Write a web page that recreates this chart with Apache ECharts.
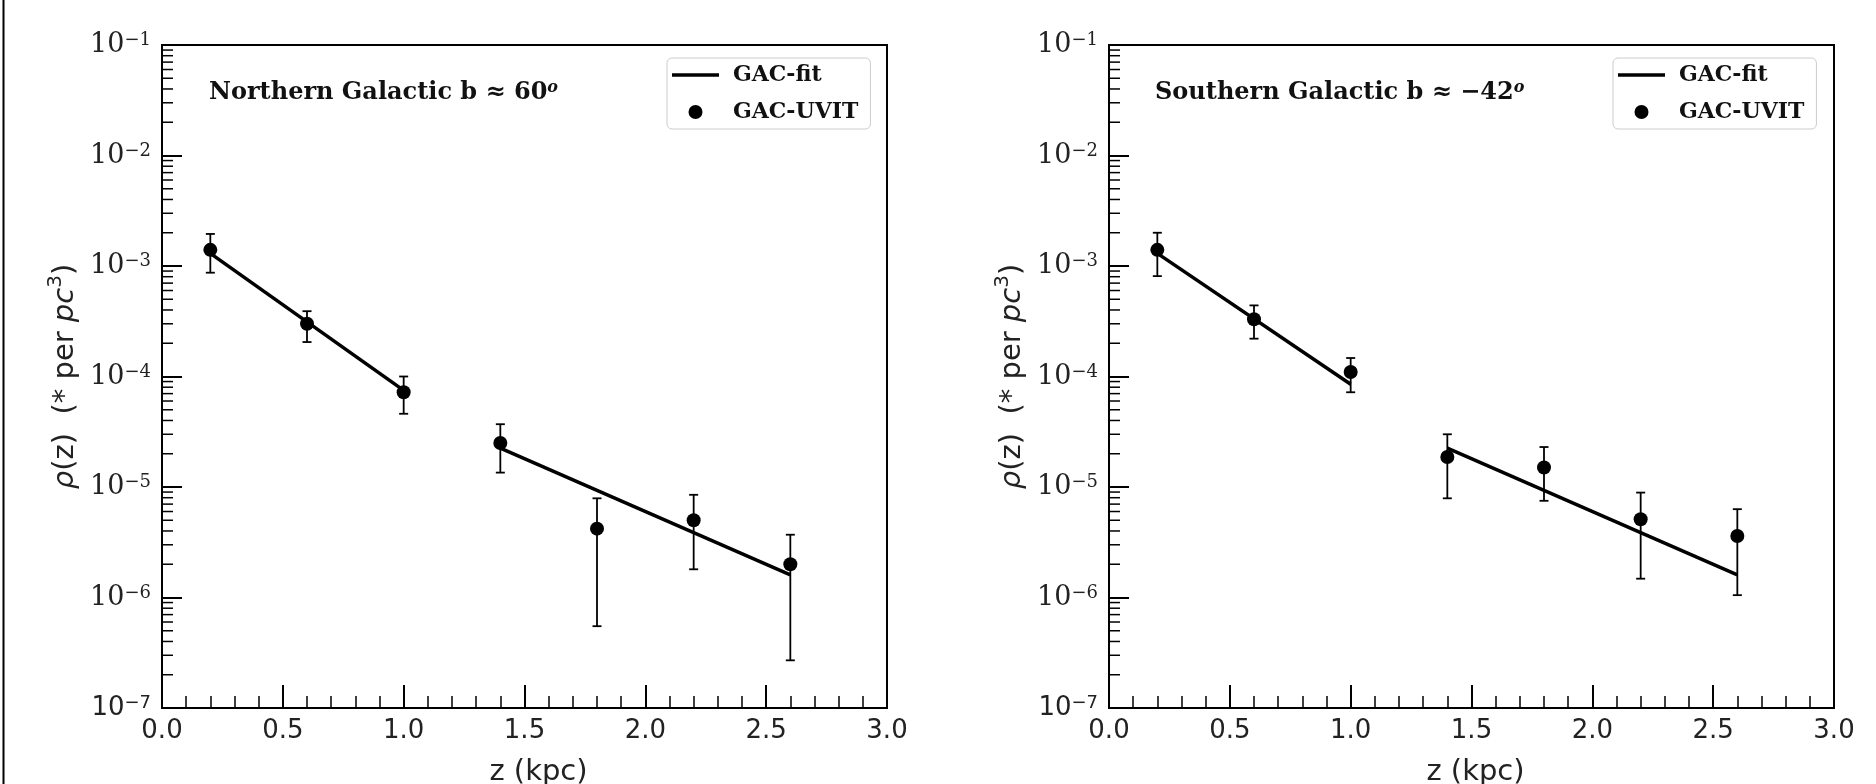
<!DOCTYPE html>
<html>
<head>
<meta charset="utf-8">
<script src="https://cdn.jsdelivr.net/npm/echarts@6/dist/echarts.min.js"></script>
<style>
html, body { margin: 0; padding: 0; background: #fff; }
#chart { width: 1876px; height: 784px; }
</style>
</head>
<body>
<div id="chart"></div>
<script>
// heights above the plane (kpc)
var zKpc = [0.2, 0.6, 1.0, 1.4, 1.8, 2.2, 2.6];

// Northern Galactic, b ~ 60
var northRho = [1.40e-3, 3.0e-4, 7.2e-5, 2.5e-5, 4.2e-6, 5.0e-6, 2.0e-6];
var northHi  = [1.95e-3, 3.9e-4, 1.0e-4, 3.7e-5, 7.9e-6, 8.5e-6, 3.7e-6];
var northLo  = [8.7e-4, 2.05e-4, 4.6e-5, 1.35e-5, 5.5e-7, 1.8e-6, 2.7e-7];

// Southern Galactic, b ~ -42
var southRho = [1.40e-3, 3.3e-4, 1.1e-4, 1.87e-5, 1.5e-5, 5.1e-6, 3.6e-6];
var southHi  = [2.0e-3, 4.4e-4, 1.47e-4, 3.0e-5, 2.3e-5, 8.9e-6, 6.3e-6];
var southLo  = [8.1e-4, 2.2e-4, 7.2e-5, 7.9e-6, 7.5e-6, 1.48e-6, 1.05e-6];

// fitted exponential segments (end points)
var fitZInner = [0.2, 1.0];
var fitZOuter = [1.4, 2.6];
var northFitInner = [1.3e-3, 7.5e-5];
var northFitOuter = [2.25e-5, 1.6e-6];
var southFitInner = [1.3e-3, 8.5e-5];
var southFitOuter = [2.25e-5, 1.6e-6];

var decades = [-7, -6, -5, -4, -3, -2, -1];
var minorMults = [2, 3, 4, 5, 6, 7, 8, 9];

var serif = 'DejaVu Serif';
var sans = 'DejaVu Sans';

function pairs(xs, ys) {
    return xs.map(function (x, i) { return [x, ys[i]]; });
}
function errRows(xs, lo, hi) {
    return xs.map(function (x, i) { return [x, lo[i], hi[i]]; });
}

var minorVals = [];
decades.slice(0, -1).forEach(function (e) {
    minorMults.forEach(function (m) { minorVals.push([0, m * Math.pow(10, e)]); });
});

function renderErr(params, api) {
    var top = api.coord([api.value(0), api.value(2)]);
    var bot = api.coord([api.value(0), api.value(1)]);
    var st = { stroke: '#000', lineWidth: 1.8 };
    return {
        type: 'group',
        children: [
            { type: 'line', shape: { x1: top[0], y1: top[1], x2: bot[0], y2: bot[1] }, style: st },
            { type: 'line', shape: { x1: top[0] - 4.5, y1: top[1], x2: top[0] + 4.5, y2: top[1] }, style: st },
            { type: 'line', shape: { x1: bot[0] - 4.5, y1: bot[1], x2: bot[0] + 4.5, y2: bot[1] }, style: st }
        ]
    };
}

function renderMinor(params, api) {
    var p = api.coord([0, api.value(1)]);
    return {
        type: 'line',
        shape: { x1: p[0], y1: p[1], x2: p[0] + 11, y2: p[1] },
        style: { stroke: '#000', lineWidth: 1.5 }
    };
}

function yLabel(v) {
    var e = Math.round(Math.log10(v));
    var exp = '\u2212' + Math.abs(e);
    if (e === -7) return '{bs|10}{ss|' + exp + '}';
    return '{b|10}{s|' + exp + '}';
}

function makeX(gi, shift) {
    return {
        type: 'value', gridIndex: gi, min: 0, max: 3, interval: 0.5,
        name: 'z (kpc)', nameLocation: 'middle', nameGap: 50,
        nameTextStyle: { fontFamily: sans, fontSize: 29, color: '#222', padding: [0, 0, 0, shift] },
        axisLine: { show: true, lineStyle: { color: '#000', width: 2 } },
        axisTick: { show: true, inside: true, length: 23, lineStyle: { color: '#000', width: 2 } },
        minorTick: { show: true, splitNumber: 5, length: 12, lineStyle: { color: '#000', width: 1.5 } },
        splitLine: { show: false },
        axisLabel: {
            margin: 10, fontFamily: sans, fontSize: 26, color: '#222',
            formatter: function (v) { return v.toFixed(1); }
        }
    };
}

function makeY(gi) {
    return {
        type: 'log', logBase: 10, gridIndex: gi, min: 1e-7, max: 1e-1,
        name: '{i|\u03c1}{n|(z)  (* per }{i|pc}{s|3}{n|)}', nameLocation: 'middle', nameGap: 82, nameRotate: 90,
        nameTextStyle: {
            fontFamily: sans, fontSize: 29, color: '#222',
            rich: {
                n: { fontFamily: sans, fontSize: 29, lineHeight: 34, verticalAlign: 'bottom', color: '#222' },
                i: { fontFamily: sans, fontStyle: 'italic', fontSize: 29, lineHeight: 34, verticalAlign: 'bottom', color: '#222' },
                s: { fontFamily: sans, fontSize: 20, lineHeight: 20, verticalAlign: 'top', color: '#222' }
            }
        },
        axisLine: { show: true, lineStyle: { color: '#000', width: 2 } },
        axisTick: { show: true, inside: true, length: 20, lineStyle: { color: '#000', width: 2 } },
        splitLine: { show: false },
        axisLabel: {
            margin: 11, color: '#222', formatter: yLabel,
            rich: {
                b: { fontFamily: serif, fontSize: 27, lineHeight: 27, color: '#222' },
                s: { fontFamily: serif, fontSize: 18, lineHeight: 18, verticalAlign: 'top', color: '#222' },
                bs: { fontFamily: sans, fontSize: 26, lineHeight: 27, color: '#222' },
                ss: { fontFamily: sans, fontSize: 18, lineHeight: 18, verticalAlign: 'top', color: '#222' }
            }
        }
    };
}

function makeLegend(left) {
    var lineIcon = 'path://M0,0 L47,0 L47,3.5 L0,3.5 Z';
    return {
        data: [{ name: 'GAC-fit', icon: lineIcon }, { name: 'GAC-UVIT', icon: 'circle' }],
        orient: 'vertical', left: left, top: 58,
        itemWidth: 47, itemHeight: 14, itemGap: 15,
        padding: [6, 12, 6, 5],
        borderColor: '#ccc', borderWidth: 1, borderRadius: 5,
        backgroundColor: '#fff',
        textStyle: { fontFamily: serif, fontWeight: 'bold', fontSize: 22, color: '#111', padding: [0, 0, 0, 9] }
    };
}

function panelSeries(gi, rho, lo, hi, fitIn, fitOut) {
    var lineStyle = { color: '#000', width: 3.5 };
    return [
        { name: 'GAC-fit', type: 'line', xAxisIndex: gi, yAxisIndex: gi, symbol: 'none',
          data: pairs(fitZInner, fitIn), lineStyle: lineStyle, itemStyle: { color: '#000' }, z: 3 },
        { name: 'GAC-fit', type: 'line', xAxisIndex: gi, yAxisIndex: gi, symbol: 'none',
          data: pairs(fitZOuter, fitOut), lineStyle: lineStyle, itemStyle: { color: '#000' }, z: 3 },
        { name: 'err' + gi, type: 'custom', xAxisIndex: gi, yAxisIndex: gi,
          data: errRows(zKpc, lo, hi), renderItem: renderErr, encode: { x: 0, y: [1, 2] }, z: 4 },
        { name: 'GAC-UVIT', type: 'scatter', xAxisIndex: gi, yAxisIndex: gi, symbol: 'circle', symbolSize: 14,
          data: pairs(zKpc, rho), itemStyle: { color: '#000', opacity: 1 }, z: 5 },
        { name: 'minor' + gi, type: 'custom', xAxisIndex: gi, yAxisIndex: gi,
          data: minorVals, renderItem: renderMinor, encode: { x: 0, y: 1 }, silent: true, z: 2 }
    ];
}

var annoRich = {
    t: { fontFamily: serif, fontWeight: 'bold', fontSize: 24, lineHeight: 26, fill: '#111' },
    s: { fontFamily: serif, fontStyle: 'italic', fontWeight: 'bold', fontSize: 16, lineHeight: 16, verticalAlign: 'top', fill: '#111' }
};

var chart = echarts.init(document.getElementById('chart'));
chart.setOption({
    animation: false,
    backgroundColor: '#fff',
    grid: [
        { left: 162, right: 989, top: 45, bottom: 76, outerBoundsMode: 'none', containLabel: false,
          show: true, borderColor: '#000', borderWidth: 2, backgroundColor: 'transparent' },
        { left: 1109, right: 42, top: 45, bottom: 76, outerBoundsMode: 'none', containLabel: false,
          show: true, borderColor: '#000', borderWidth: 2, backgroundColor: 'transparent' }
    ],
    xAxis: [makeX(0, 28), makeX(1, 8)],
    yAxis: [makeY(0), makeY(1)],
    legend: [makeLegend(667), makeLegend(1613)],
    graphic: [
        { type: 'line', shape: { x1: 3.5, y1: 0, x2: 3.5, y2: 784 }, style: { stroke: '#000', lineWidth: 2 } },
        { type: 'text', x: 209, y: 93, style: {
            text: '{t|Northern Galactic b \u2248 60}{s|o}', verticalAlign: 'middle', rich: annoRich } },
        { type: 'text', x: 1155, y: 93, style: {
            text: '{t|Southern Galactic b \u2248 \u221242}{s|o}', verticalAlign: 'middle', rich: annoRich } }
    ],
    series: [].concat(
        panelSeries(0, northRho, northLo, northHi, northFitInner, northFitOuter),
        panelSeries(1, southRho, southLo, southHi, southFitInner, southFitOuter)
    )
});
</script>
</body>
</html>
